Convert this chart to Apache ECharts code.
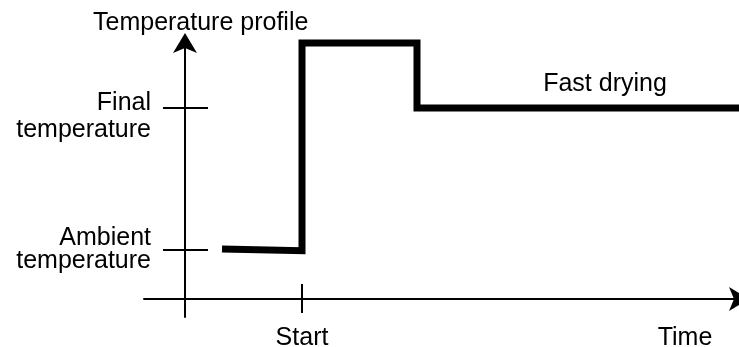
<!DOCTYPE html>
<html>
<head>
<meta charset="utf-8">
<script src="https://cdn.jsdelivr.net/npm/echarts@6/dist/echarts.min.js"></script>
<style>
  html, body { margin: 0; padding: 0; background: #fff; }
  #chart { width: 739px; height: 347px; }
</style>
</head>
<body>
<div id="chart"></div>
<script>
// temperature profile (schematic units: time -> x, temperature -> y)
var timeValues = [37, 117, 117, 232, 232, 554];
var tempValues = [50, 48.3, 256, 256, 191, 191];

// y ticks
var tempTickValues = [49, 191];
var tempTickLabels = ["Ambient\ntemperature", "Final\ntemperature"];

// x ticks / labels
var timeTickValues = [117];
var timeLabelValues = [117, 500];
var timeLabelTexts = ["Start", "Time"];

var annotationText = "Fast drying";
var annotationAt = [420, 191];

var FONT = "'Liberation Sans', Arial, sans-serif";

var chart = echarts.init(document.getElementById("chart"));

var points = timeValues.map(function (t, i) {
  return [t, tempValues[i]];
});

// label for "Final" sits a bit below its tick in the picture
var yLabelAnchors = [tempTickValues[0], tempTickValues[1] - 8.5];

var axisLineStyle = { color: "#000", width: 2 };

var option = {
  animation: false,
  title: {
    text: "Temperature profile",
    left: 93,
    top: 11,
    padding: 0,
    textStyle: { fontFamily: FONT, fontSize: 25, fontWeight: "normal", color: "#000", lineHeight: 25 },
  },
  grid: {
    left: 144,
    right: 0,
    top: 43,
    bottom: 30,
    containLabel: false,
    outerBoundsMode: "none",
  },
  xAxis: [
    {
      type: "value",
      min: -41,
      max: 554,
      position: "bottom",
      axisLine: {
        onZero: true,
        onZeroAxisIndex: 0,
        lineStyle: axisLineStyle,
        symbol: ["none", "arrow"],
        symbolSize: [18, 20],
        symbolOffset: [0, 10],
      },
      axisTick: {
        show: true,
        length: 14,
        customValues: timeTickValues,
        lineStyle: axisLineStyle,
      },
      axisLabel: {
        show: true,
        margin: 9,
        customValues: timeLabelValues,
        fontFamily: FONT,
        fontSize: 25,
        lineHeight: 25,
        color: "#000",
        formatter: function (v) {
          var i = timeLabelValues.indexOf(v);
          return i >= 0 ? timeLabelTexts[i] : "";
        },
      },
      splitLine: { show: false },
    },
    {
      // ticks crossing to the other side of the axis
      type: "value",
      min: -41,
      max: 554,
      position: "bottom",
      axisLine: { show: false, onZero: true, onZeroAxisIndex: 0 },
      axisTick: {
        show: true,
        inside: true,
        length: 15,
        customValues: timeTickValues,
        lineStyle: axisLineStyle,
      },
      axisLabel: { show: false },
      splitLine: { show: false },
    },
  ],
  yAxis: [
    {
      type: "value",
      min: -18,
      max: 256,
      position: "left",
      axisLine: {
        onZero: true,
        onZeroAxisIndex: 0,
        lineStyle: axisLineStyle,
        symbol: ["none", "arrow"],
        symbolSize: [18, 20],
        symbolOffset: [0, 10],
      },
      axisTick: {
        show: true,
        length: 22,
        customValues: tempTickValues,
        lineStyle: axisLineStyle,
      },
      axisLabel: {
        show: true,
        margin: -7,
        customValues: yLabelAnchors,
        color: "#000",
        fontFamily: FONT,
        fontSize: 25,
        align: "right",
        formatter: function (v) {
          var i = yLabelAnchors.indexOf(v);
          if (i < 0) return "";
          return (i === 0 ? "{a|" : "{f|") + tempTickLabels[i] + "}";
        },
        rich: {
          a: { fontFamily: FONT, fontSize: 25, lineHeight: 23, color: "#000", align: "right" },
          f: { fontFamily: FONT, fontSize: 25, lineHeight: 27, color: "#000", align: "right" },
        },
      },
      splitLine: { show: false },
    },
    {
      type: "value",
      min: -18,
      max: 256,
      position: "left",
      axisLine: { show: false, onZero: true, onZeroAxisIndex: 0 },
      axisTick: {
        show: true,
        inside: true,
        length: 23,
        customValues: tempTickValues,
        lineStyle: axisLineStyle,
      },
      axisLabel: { show: false },
      splitLine: { show: false },
    },
  ],
  series: [
    {
      type: "line",
      xAxisIndex: 0,
      yAxisIndex: 0,
      data: points,
      clip: false,
      showSymbol: false,
      symbol: "none",
      lineStyle: { color: "#000", width: 7, join: "miter", cap: "butt" },
      markPoint: {
        symbol: "circle",
        symbolSize: 0,
        label: {
          show: true,
          position: "inside",
          offset: [0, -24],
          formatter: annotationText,
          fontFamily: FONT,
          fontSize: 25,
          color: "#000",
        },
        data: [{ coord: annotationAt }],
      },
    },
  ],
};

chart.setOption(option);
</script>
</body>
</html>
